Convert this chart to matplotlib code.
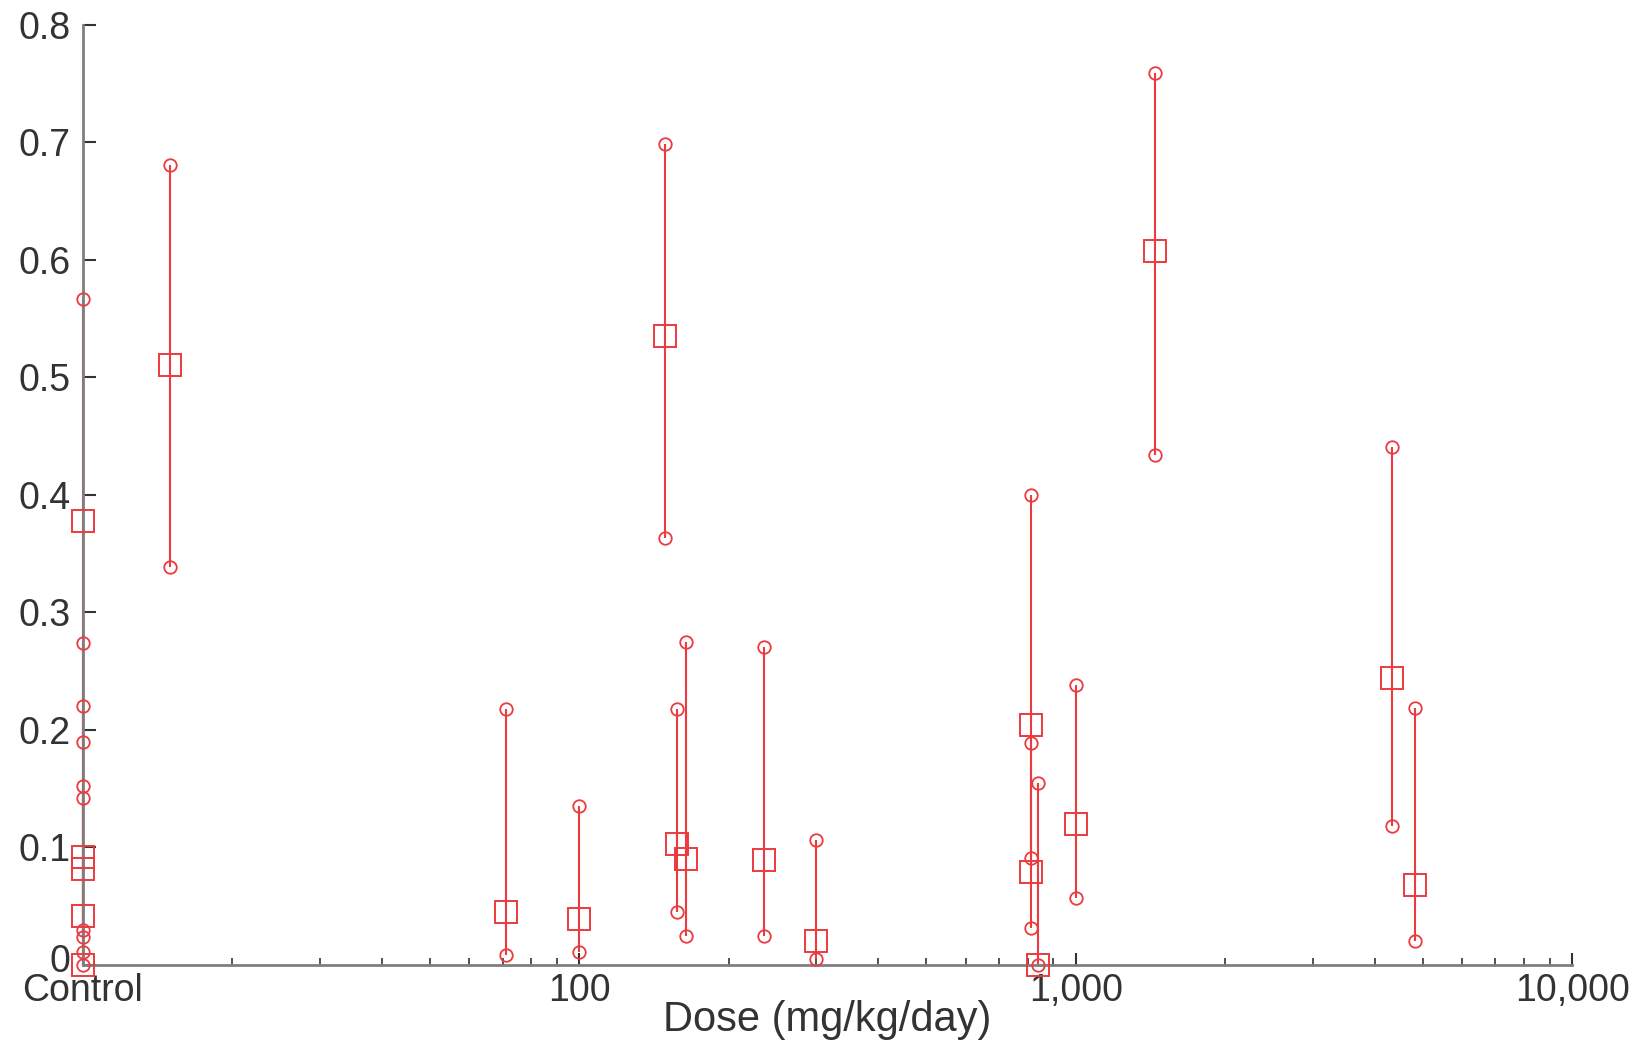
import matplotlib
import matplotlib.pyplot as plt
import matplotlib.transforms as mtransforms
import numpy as np
from matplotlib.ticker import FixedLocator, LogLocator, NullFormatter

matplotlib.use('Agg')

plt.rcParams['font.family'] = ['Liberation Sans', 'DejaVu Sans']

# dose (mg/kg/day), control plotted at 10
doses = [10, 10, 10, 10, 10, 15, 71, 100, 149, 157, 164, 235, 299, 813, 813, 840, 1000, 1445, 4325, 4830]
means = [0.378, 0.092, 0.082, 0.042, 0.0, 0.511, 0.045, 0.039, 0.535, 0.103, 0.090, 0.089, 0.020,
         0.204, 0.079, 0.0, 0.120, 0.608, 0.244, 0.068]
lower = [0.190, 0.030, 0.024, 0.011, 0.0, 0.339, 0.008, 0.011, 0.363, 0.045, 0.025, 0.025, 0.005,
         0.091, 0.031, 0.0, 0.057, 0.434, 0.118, 0.020]
upper = [0.567, 0.274, 0.220, 0.152, 0.142, 0.681, 0.218, 0.135, 0.699, 0.218, 0.275, 0.271, 0.106,
         0.400, 0.189, 0.155, 0.238, 0.759, 0.441, 0.219]

xticks = [10, 100, 1000, 10000]
xticklabels = ['Control', '100', '1,000', '10,000']
yticks = [0, 0.1, 0.2, 0.3, 0.4, 0.5, 0.6, 0.7, 0.8]
yticklabels = ['0', '0.1', '0.2', '0.3', '0.4', '0.5', '0.6', '0.7', '0.8']

red = '#ec3a3f'
grey = '#7f7f7f'
txt = '#333333'

fig = plt.figure(figsize=(16.43, 10.42), dpi=100)
ax = fig.add_axes([0.0505, 0.074, 0.9065, 0.902])

ax.vlines(doses, lower, upper, color=red, lw=1.5, zorder=2, clip_on=False)
ax.plot(doses, lower, 'o', ms=9, mfc='none', mec=red, mew=1.3, zorder=3, clip_on=False)
ax.plot(doses, upper, 'o', ms=9, mfc='none', mec=red, mew=1.3, zorder=3, clip_on=False)
ax.plot(doses, means, 's', ms=16, mfc='none', mec=red, mew=1.4, zorder=4, clip_on=False)

ax.set_xscale('log')
ax.set_xlim(10, 10000)
ax.set_ylim(0, 0.8)

ax.xaxis.set_major_locator(FixedLocator(xticks))
ax.set_xticklabels(xticklabels)
ax.xaxis.set_minor_locator(LogLocator(base=10, subs=np.arange(2, 10)))
ax.xaxis.set_minor_formatter(NullFormatter())
ax.set_yticks(yticks)
ax.set_yticklabels(yticklabels)

for side in ['top', 'right']:
    ax.spines[side].set_visible(False)
for side in ['left', 'bottom']:
    ax.spines[side].set_color(grey)
    ax.spines[side].set_linewidth(2)

ax.tick_params(axis='both', which='major', direction='in', length=9, width=1.5,
               color=txt, labelsize=27, labelcolor=txt)
ax.tick_params(axis='y', which='major', pad=9)
ax.tick_params(axis='x', which='major', pad=6)
ax.tick_params(axis='x', which='minor', direction='in', length=5, width=1.2, color=txt)

# lift the "0" label a touch so it clears "Control"
t0 = ax.yaxis.get_major_ticks()[0]
t0.label1.set_transform(t0.label1.get_transform() +
                        mtransforms.ScaledTranslation(0, 5 / 72, fig.dpi_scale_trans))

ax.set_xlabel('Dose (mg/kg/day)', fontsize=30, color=txt, labelpad=-7)

fig.savefig('out.png', dpi=100)
